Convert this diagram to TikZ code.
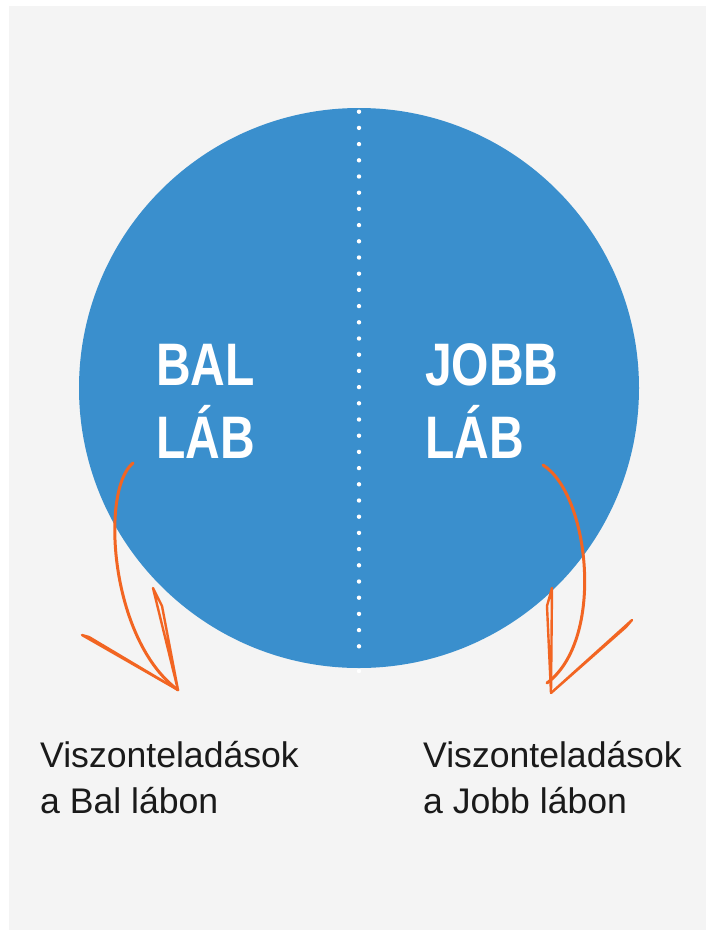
\documentclass[tikz,border=0pt]{standalone}
\usepackage{fontspec}
\setmainfont{Liberation Sans}
\newfontfamily\condfont{Liberation Sans}[FakeStretch=0.8]
\usetikzlibrary{positioning}
\definecolor{legblue}{HTML}{3A8FCD}
\definecolor{paper}{HTML}{F4F4F4}
\definecolor{marker}{HTML}{F26522}
\definecolor{ink}{HTML}{1A1A1A}
\tikzset{
  legtitle/.style={%
    anchor=base west,
    inner sep=0pt,
    text=white,
    font=\condfont\bfseries\fontsize{60}{72}\selectfont
  },
  legnote/.style={%
    anchor=base west,
    inner sep=0pt,
    text=ink,
    font=\fontsize{35.6}{46}\selectfont
  },
  scribble/.style={%
    draw=marker,
    line width=3pt,
    line cap=round,
    line join=round
  }
}

\begin{document}
\begin{tikzpicture}[x=1pt,y=-1pt]
  \useasboundingbox (0,0) rectangle (710,930);
  \fill[paper] (9,6) rectangle (706,930);

  % Circle and split
  \node[circle,fill=legblue,minimum size=560pt,inner sep=0pt] (leg) at (359,388) {};
  \coordinate (splitTop) at (359,111.7);
  \coordinate (splitBot) at (359,671);
  \draw[white,line width=4.4pt,line cap=round,dash pattern=on 0pt off 16.2pt]
    (splitTop) -- ([yshift=12pt]splitBot);
  \fill[white] (splitBot) circle (2.2pt);

  % Titles
  \node[legtitle] (bal1) at (156,385) {BAL};
  \node[legtitle] (bal2) at (156,458) {LÁB};
  \node[legtitle] (jobb1) at (425,385) {JOBB};
  \node[legtitle] (jobb2) at (425,458) {LÁB};

  % Notes
  \node[legnote] (balnote1) at (40,767) {Viszonteladások};
  \node[legnote] (balnote2) at (40,813) {a Bal lábon};
  \node[legnote] (jobbnote1) at (423,767) {Viszonteladások};
  \node[legnote] (jobbnote2) at (423,813) {a Jobb lábon};

  % Hand drawn arrows
  \coordinate (balTail) at (133,463);
  \coordinate (balTip) at (178,690);
  \draw[scribble] (balTail) .. controls (100,490) and (110,640) .. (balTip);
  \draw[scribble,line width=2.4pt] (balTip) -- (82,635) -- (89,637) -- (balTip);
  \draw[scribble,line width=2.4pt] (balTip) -- (153,588) -- (162,606) -- (balTip);

  \coordinate (jobbTail) at (543,465);
  \coordinate (jobbTip) at (551,693);
  \draw[scribble] (jobbTail) .. controls (590,495) and (605,640) .. ([shift={(-4,-10)}]jobbTip);
  \draw[scribble,line width=2.4pt] (jobbTip) -- (552,588) -- (547,606) -- (jobbTip);
  \draw[scribble,line width=2.4pt] (jobbTip) -- (632,620) -- (626,627) -- (jobbTip);
\end{tikzpicture}
\end{document}
